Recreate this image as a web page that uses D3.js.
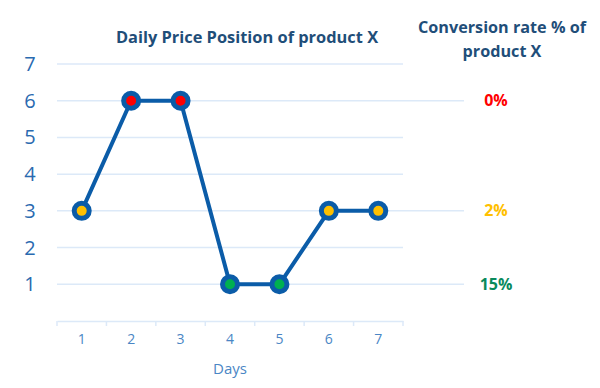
<!DOCTYPE html>
<html>
<head>
<meta charset="utf-8">
<script src="https://cdn.jsdelivr.net/npm/d3@7"></script>
<style>
  body { margin: 0; background: #fff; }
  text { font-family: "Open Sans", sans-serif; }
</style>
</head>
<body>
<svg id="chart" width="600" height="388"></svg>
<script>
var days = [1, 2, 3, 4, 5, 6, 7];
var position = [3, 6, 6, 1, 1, 3, 3];
var yTicks = [1, 2, 3, 4, 5, 6, 7];
var convLevels = [6, 3, 1];
var convLabels = ["0%", "2%", "15%"];
var convColors = ["#ff0000", "#ffc000", "#0a8a5c"];
var markerColors = ["#ff0000", "#ffc000", "#00b050"];

function drawChart() {
    var svg = d3.select("#chart");
    var left = 57, right = 403, top = 64, bottom = 321;

    var x = d3.scaleBand()
        .domain(days)
        .range([left, right]);
    var y = d3.scaleLinear()
        .domain([0, 7])
        .range([bottom, top]);

    // gridlines, the ones with a conversion label run further right
    svg.append("g")
        .selectAll("line")
        .data(yTicks)
        .enter()
        .append("line")
            .attr("x1", left)
            .attr("x2", function(d) { return convLevels.indexOf(d) >= 0 ? 464 : right; })
            .attr("y1", function(d) { return y(d); })
            .attr("y2", function(d) { return y(d); })
            .attr("stroke", "#dce9f8")
            .attr("stroke-width", 1.5);

    // y labels
    svg.append("g")
        .selectAll("text")
        .data(yTicks)
        .enter()
        .append("text")
            .attr("x", 30)
            .attr("y", function(d) { return y(d); })
            .attr("dy", "0.35em")
            .attr("text-anchor", "middle")
            .attr("font-size", 20)
            .attr("fill", "#2a6ab0")
            .text(function(d) { return d; });

    // x axis
    var xAxis = d3.axisBottom(x).tickSize(0).tickPadding(13);
    var gx = svg.append("g")
        .attr("transform", "translate(0," + bottom + ")")
        .call(xAxis);
    gx.select(".domain").attr("stroke", "#dce9f8").attr("stroke-width", 1.5);
    gx.selectAll("text")
        .attr("font-size", 14)
        .attr("fill", "#4a86c5")
        .attr("font-family", "Open Sans, sans-serif");
    var edges = days.map(function(d) { return x(d); }).concat([right]);
    gx.selectAll(".edge")
        .data(edges)
        .enter()
        .append("line")
            .attr("x1", function(d) { return d; })
            .attr("x2", function(d) { return d; })
            .attr("y1", 0)
            .attr("y2", 5)
            .attr("stroke", "#dce9f8")
            .attr("stroke-width", 1.5);

    svg.append("text")
        .attr("x", (left + right) / 2)
        .attr("y", 374)
        .attr("text-anchor", "middle")
        .attr("font-size", 15)
        .attr("fill", "#4a86c5")
        .text("Days");

    // titles
    svg.append("text")
        .attr("x", 247)
        .attr("y", 43)
        .attr("text-anchor", "middle")
        .attr("font-size", 16.4)
        .attr("font-weight", "bold")
        .attr("fill", "#1f4e79")
        .text("Daily Price Position of product X");

    svg.append("text")
        .attr("x", 502)
        .attr("y", 33)
        .attr("text-anchor", "middle")
        .attr("font-size", 16.2)
        .attr("font-weight", "bold")
        .attr("fill", "#1f4e79")
        .text("Conversion rate % of");
    svg.append("text")
        .attr("x", 502)
        .attr("y", 57)
        .attr("text-anchor", "middle")
        .attr("font-size", 16.2)
        .attr("font-weight", "bold")
        .attr("fill", "#1f4e79")
        .text("product X");

    // conversion labels
    svg.append("g")
        .selectAll("text")
        .data(convLevels)
        .enter()
        .append("text")
            .attr("x", 496)
            .attr("y", function(d) { return y(d); })
            .attr("dy", "0.35em")
            .attr("text-anchor", "middle")
            .attr("font-size", 16)
            .attr("font-weight", "bold")
            .attr("fill", function(d, i) { return convColors[i]; })
            .text(function(d, i) { return convLabels[i]; });

    // line
    var line = d3.line()
        .x(function(d, i) { return x(days[i]) + x.bandwidth() / 2; })
        .y(function(d) { return y(d); });
    svg.append("path")
        .datum(position)
        .attr("d", line)
        .attr("fill", "none")
        .attr("stroke", "#0b5ca8")
        .attr("stroke-width", 4)
        .attr("stroke-linejoin", "round");

    svg.append("g")
        .selectAll("circle")
        .data(position)
        .enter()
        .append("circle")
            .attr("cx", function(d, i) { return x(days[i]) + x.bandwidth() / 2; })
            .attr("cy", function(d) { return y(d); })
            .attr("r", 7.5)
            .attr("fill", function(d) { return markerColors[convLevels.indexOf(d)]; })
            .attr("stroke", "#0b5ca8")
            .attr("stroke-width", 5);
}

drawChart();
</script>
</body>
</html>
